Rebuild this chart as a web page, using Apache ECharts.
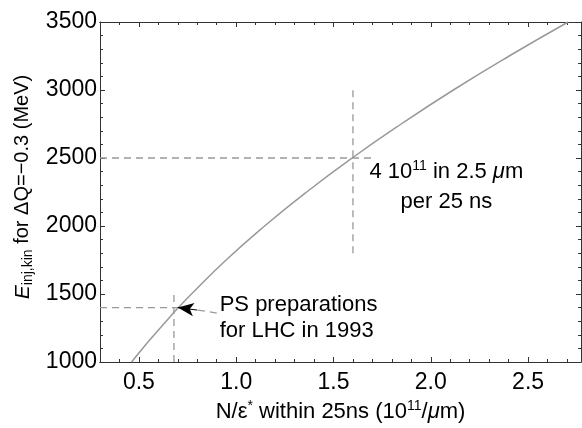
<!DOCTYPE html>
<html>
<head>
<meta charset="utf-8">
<script src="https://cdn.jsdelivr.net/npm/echarts@6/dist/echarts.min.js"></script>
<style>
  html, body { margin: 0; padding: 0; background: #fff; }
  #chart { width: 582px; height: 428px; }
</style>
</head>
<body>
<div id="chart"></div>
<script>
// values
const curveX = [0.462, 0.519, 0.579, 0.640, 0.703, 0.770, 0.948, 1.146, 1.362, 1.596, 1.848, 2.116, 2.403, 2.706]
const curveE = [1000, 1100, 1200, 1300, 1400, 1500, 1750, 2000, 2250, 2500, 2750, 3000, 3250, 3500]

const xMajor = [0.5, 1.0, 1.5, 2.0, 2.5]
const xMinor = [0.3, 0.4, 0.6, 0.7, 0.8, 0.9, 1.1, 1.2, 1.3, 1.4, 1.6, 1.7, 1.8, 1.9, 2.1, 2.2, 2.3, 2.4, 2.6, 2.7]

// guide lines (dashed)
const lhcH = [[0.3, 2500], [1.7, 2500]]
const lhcV = [[1.6, 1800], [1.6, 3000]]
const psH = [[0.3, 1400], [0.72, 1400]]
const psV = [[0.68, 1000], [0.68, 1500]]

// arrow: tail near the text, head on the curve
const arrowTail = [0.9, 1360]
const arrowMid = [0.8, 1382]
const arrowHead = [0.7, 1400]

// text positions
const note1 = [2.08, 2398]
const note2 = [2.08, 2178]
const ps1 = [0.915, 1418]
const ps2 = [0.915, 1226]

const font = 'Liberation Sans'
const frame = '#333'

function xAxisOf(pos, values, len, labels) {
  return {
    type: 'value', position: pos, min: 0.3, max: 2.772,
    axisLine: { show: true, onZero: false, lineStyle: { color: frame, width: 1 } },
    axisTick: { show: true, inside: true, length: len, customValues: values, lineStyle: { color: frame } },
    axisLabel: labels
      ? { show: true, customValues: values, color: '#000', fontFamily: font, fontSize: 23, margin: 9,
          formatter: v => v.toFixed(1) }
      : { show: false },
    splitLine: { show: false }
  }
}

function yAxisOf(pos, labels) {
  return {
    type: 'value', position: pos, min: 1000, max: 3500, interval: 500,
    axisLine: { show: true, onZero: false, lineStyle: { color: frame, width: 1 } },
    axisTick: { show: true, inside: true, length: 5, lineStyle: { color: frame } },
    minorTick: { show: true, splitNumber: 5, length: 3, lineStyle: { color: frame } },
    axisLabel: labels
      ? { show: true, color: '#000', fontFamily: font, fontSize: 23, margin: 3, formatter: v => String(v) }
      : { show: false },
    splitLine: { show: false }
  }
}

const xMain = xAxisOf('bottom', xMajor, 5, true)
xMain.name = 'N/ε{sup|*} within 25ns (10{sup|11}/{it|μ}m)'
xMain.nameLocation = 'middle'
xMain.nameGap = 37
xMain.nameTextStyle = {
  color: '#000', fontFamily: font, fontSize: 22,
  rich: {
    sup: { fontFamily: font, fontSize: 14, color: '#000', padding: [0, 0, 11, 0] },
    it: { fontFamily: font, fontSize: 22, fontStyle: 'italic', color: '#000' }
  }
}

const yMain = yAxisOf('left', true)
yMain.name = '{it|E}{sub|inj,kin} for ΔQ=−0.3 (MeV)'
yMain.nameLocation = 'middle'
yMain.nameGap = 60
yMain.nameTextStyle = {
  color: '#000', fontFamily: font, fontSize: 20, padding: [0, 0, 0, 10],
  rich: {
    it: { fontFamily: font, fontSize: 21, fontStyle: 'italic', color: '#000' },
    sub: { fontFamily: font, fontSize: 14, color: '#000', padding: [10, 0, 0, 0] }
  }
}

function guide(data) {
  return {
    type: 'line', data: data, symbol: 'none', silent: true,
    lineStyle: { color: '#999', width: 1.3, type: [7, 5] }
  }
}

function note(pt, text, align) {
  return {
    type: 'scatter', data: [pt], symbolSize: 0, silent: true,
    itemStyle: { opacity: 1 },
    label: {
      show: true, position: 'inside', align: align, verticalAlign: 'middle',
      formatter: text, color: '#000', fontFamily: font, fontSize: 22,
      rich: {
        sup: { fontFamily: font, fontSize: 14, color: '#000', padding: [0, 0, 11, 0] },
        it: { fontFamily: font, fontSize: 22, fontStyle: 'italic', color: '#000' }
      }
    }
  }
}

const chart = echarts.init(document.getElementById('chart'), null, { renderer: 'canvas' })
chart.setOption({
  animation: false,
  backgroundColor: '#fff',
  grid: { left: 100, right: 1, top: 22, bottom: 66, containLabel: false },
  xAxis: [
    xMain,
    xAxisOf('bottom', xMinor, 3, false),
    xAxisOf('top', xMajor, 5, false),
    xAxisOf('top', xMinor, 3, false)
  ],
  yAxis: [yMain, yAxisOf('right', false)],
  series: [
    guide(lhcH), guide(lhcV), guide(psH), guide(psV),
    guide([arrowTail, arrowMid]),
    {
      type: 'line', data: curveX.map((x, i) => [x, curveE[i]]),
      symbol: 'none', smooth: true, silent: true,
      lineStyle: { color: '#999', width: 1.5 }
    },
    {
      type: 'line', data: [], silent: true,
      markLine: {
        silent: true, symbol: ['none', 'arrow'], symbolSize: [10, 16],
        lineStyle: { color: '#000', width: 1, type: 'solid' },
        label: { show: false },
        data: [[{ coord: arrowMid }, { coord: arrowHead }]]
      }
    },
    note(note1, '4 10{sup|11} in 2.5 {it|μ}m', 'center'),
    note(note2, 'per 25 ns', 'center'),
    note(ps1, 'PS preparations', 'left'),
    note(ps2, 'for LHC in 1993', 'left')
  ]
})
</script>
</body>
</html>
